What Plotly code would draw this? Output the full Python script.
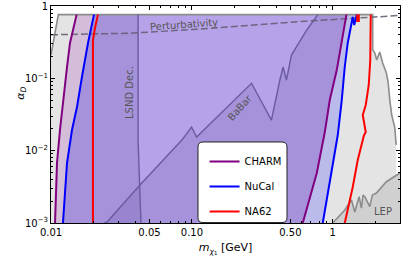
import plotly.graph_objects as go

# ---------------- data (m_chi1 in GeV, alpha_D) ----------------
Y_MIN = 1e-3
charm_left_m = [0.01068, 0.01103, 0.01158, 0.01216, 0.01299, 0.01364, 0.0152]
charm_left_a = [0.001, 0.00675, 0.0193, 0.0501, 0.1435, 0.308, 0.76]
charm_right_m = [0.612, 0.687, 0.770, 0.878, 0.952, 1.067, 1.148, 1.25]
charm_right_a = [0.001, 0.00229, 0.00491, 0.0181, 0.0501, 0.130, 0.289, 0.76]

nucal_left_m = [0.01216, 0.01299, 0.01409, 0.01529, 0.01658, 0.01831, 0.02019]
nucal_left_a = [0.001, 0.00675, 0.0193, 0.0401, 0.1043, 0.308, 0.76]
nucal_right_m = [0.849, 0.907, 0.984, 1.085, 1.158, 1.216, 1.277, 1.35, 1.386, 1.42, 1.465, 1.48]
nucal_right_a = [0.001, 0.00208, 0.0054, 0.01646, 0.0501, 0.1435, 0.308, 0.546, 0.705, 0.546, 0.705, 0.76]

na62_left_m = [0.01985, 0.01985, 0.02052, 0.02154]
na62_left_a = [0.001, 0.339, 0.497, 0.76]
na62_right_m = [1.216, 1.277, 1.386, 1.504, 1.606, 1.66, 1.714, 1.632, 1.714, 1.80, 1.845, 1.86]
na62_right_a = [0.001, 0.00151, 0.00315, 0.00743, 0.012, 0.016, 0.0181, 0.0311, 0.0428, 0.0809, 0.179, 0.76]
na62_top_m = [1.49, 1.49, 1.53, 1.53]
na62_top_a = [0.76, 0.62, 0.62, 0.76]

other_m = [0.01, 0.01, 0.01127, 1.92, 1.92, 1.99, 2.05, 2.154, 2.26, 2.40, 2.47, 2.54, 2.62, 2.75, 2.82, 2.82]
other_a = [0.001, 0.21, 0.76, 0.76, 0.246, 0.224, 0.179, 0.231, 0.163, 0.1186, 0.089, 0.0501, 0.0311, 0.0212, 0.012, 0.001]

lep_m = [1.0, 1.216, 1.357, 1.433, 1.537, 1.597, 1.64, 1.687, 1.83, 1.91, 2.04, 2.40, 3.0]
lep_a = [0.001, 0.00151, 0.00208, 0.00142, 0.00231, 0.00161, 0.00244, 0.00231, 0.00168, 0.00244, 0.0026, 0.00372, 0.00491]

lsnd_m = [0.0435, 0.0428, 0.0415, 0.0415]
lsnd_a = [0.001, 0.00335, 0.014, 0.76]

babar_m = [0.02375, 0.02497, 0.0428, 0.0849, 0.0995, 0.108, 0.265, 0.295, 0.367, 0.421, 0.444, 0.469, 0.509, 0.654, 0.783]
babar_a = [0.001, 0.00103, 0.00335, 0.014, 0.0212, 0.01545, 0.0854, 0.0588, 0.0265, 0.0948, 0.1435, 0.0948, 0.21, 0.466, 0.76]

pert_m = [0.01, 0.036, 0.114, 0.58, 3.0]
pert_a = [0.40, 0.42, 0.48, 0.61, 0.74]

x_tickvals = [0.01, 0.05, 0.1, 0.5, 1]
x_ticktext = ["0.01", "0.05", "0.10", "0.50", "1"]
y_tickvals = [0.001, 0.01, 0.1, 1]
y_ticktext = ["10<sup>−3</sup>", "10<sup>−2</sup>", "10<sup>−1</sup>", "1"]

FONT = "DejaVu Sans"
fig = go.Figure()


def poly(xs, ys, color, line=None):
    fig.add_trace(go.Scatter(x=xs, y=ys, mode="lines", fill="toself", fillcolor=color,
                             line=dict(width=0) if line is None else line,
                             showlegend=False, hoverinfo="skip"))


def curve(xs, ys, color, width, dash=None, name=None, group=None):
    fig.add_trace(go.Scatter(x=xs, y=ys, mode="lines", name=name,
                             line=dict(color=color, width=width, dash=dash),
                             showlegend=name is not None, legendgroup=group,
                             hoverinfo="skip"))


# background constraint regions
poly(other_m, other_a, "#e4e4e4")
poly(lep_m + [lep_m[-1]], lep_a + [Y_MIN], "#d0d0d0")
# CHARM band, NuCal band, overlap
poly(charm_left_m + charm_right_m[::-1], charm_left_a + charm_right_a[::-1], "#d3bdd8")
poly(nucal_left_m + nucal_right_m[::-1], nucal_left_a + nucal_right_a[::-1], "#babbea")
poly(nucal_left_m + charm_right_m[::-1], nucal_left_a + charm_right_a[::-1], "#b6a2e9")
# LSND and BaBar darker overlays
poly(nucal_left_m + lsnd_m[::-1], nucal_left_a + lsnd_a[::-1], "rgba(60,30,120,0.12)")
poly(babar_m + charm_right_m[::-1], babar_a + charm_right_a[::-1], "rgba(60,30,120,0.12)")

# outlines
curve(other_m[1:-1], other_a[1:-1], "#8c8c8c", 1.6)
curve(lep_m, lep_a, "#8c8c8c", 1.6)
curve(lsnd_m, lsnd_a, "#6a5aa0", 1.4)
curve(babar_m, babar_a, "#6a5aa0", 1.4)
curve(pert_m, pert_a, "rgba(100,95,115,0.9)", 1.5, dash="7px,3px")

# experiment contours
curve(charm_left_m, charm_left_a, "#800080", 2, name="CHARM", group="charm")
curve(charm_right_m, charm_right_a, "#800080", 2, group="charm")
curve(nucal_left_m, nucal_left_a, "#0000ff", 2, name="NuCal", group="nucal")
curve(nucal_right_m, nucal_right_a, "#0000ff", 2, group="nucal")
curve(na62_left_m, na62_left_a, "#ff0000", 2, name="NA62", group="na62")
curve(na62_right_m, na62_right_a, "#ff0000", 2, group="na62")
curve(na62_top_m, na62_top_a, "#ff0000", 2, group="na62")

ann = dict(showarrow=False, font=dict(family=FONT, size=10, color="#555555"), xref="x", yref="y")
fig.add_annotation(text="Perturbativity", x=-1.056, y=-0.249, textangle=-4, **ann)
fig.add_annotation(text="LSND Dec.", x=-1.447, y=-1.19, textangle=-90, **ann)
fig.add_annotation(text="BaBar", x=-0.66, y=-1.397, textangle=-48, **ann)
fig.add_annotation(text="LEP", x=0.358, y=-2.835, **ann)
# y-axis label (placed like the reference, above the axis centre)
fig.add_annotation(text="<i>α</i><sub><i>D</i></sub>", xref="paper", yref="paper",
                   x=-0.112, y=0.60, textangle=-90, showarrow=False,
                   font=dict(family=FONT, size=11, color="black"))

# rounded legend frame
x0, x1, y0, y1, rx, ry = 0.4212, 0.6762, 0.002, 0.3733, 0.0143, 0.023
path = (f"M {x0+rx},{y1} L {x1-rx},{y1} Q {x1},{y1} {x1},{y1-ry} L {x1},{y0+ry} "
        f"Q {x1},{y0} {x1-rx},{y0} L {x0+rx},{y0} Q {x0},{y0} {x0},{y0+ry} "
        f"L {x0},{y1-ry} Q {x0},{y1} {x0+rx},{y1} Z")
fig.add_shape(type="path", path=path, xref="paper", yref="paper",
              fillcolor="white", line=dict(color="#222222", width=1), layer="above")

minor_x = [k * 10 ** e for e in (-2, -1, 0) for k in range(2, 10) if k * 10 ** e <= 3]
minor_y = [k * 10 ** e for e in (-3, -2, -1) for k in range(2, 10)]
axis_common = dict(showline=True, linecolor="black", linewidth=1, mirror="ticks",
                   ticks="inside", ticklen=4, tickwidth=1, tickcolor="black",
                   showgrid=False, zeroline=False, automargin=False,
                   tickfont=dict(family=FONT, size=10, color="black"))
fig.update_xaxes(type="log", range=[-2, 0.4771], tickmode="array",
                 tickvals=x_tickvals, ticktext=x_ticktext,
                 minor=dict(ticks="inside", ticklen=2, tickcolor="black", tickvals=minor_x, showgrid=False),
                 title=dict(text="<i>m</i><sub><i>χ</i><sub>1</sub></sub> [GeV]",
                            font=dict(family=FONT, size=11, color="black"), standoff=6),
                 **axis_common)
fig.update_yaxes(type="log", range=[-3, 0], tickmode="array",
                 tickvals=y_tickvals, ticktext=y_ticktext,
                 minor=dict(ticks="inside", ticklen=2, tickcolor="black", tickvals=minor_y, showgrid=False),
                 **axis_common)
fig.update_layout(width=407, height=269, margin=dict(l=51, r=7, t=6, b=46),
                  plot_bgcolor="white", paper_bgcolor="white",
                  font=dict(family=FONT, size=10, color="black"),
                  legend=dict(x=0.44, y=0.35, xanchor="left", yanchor="top",
                              bgcolor="rgba(0,0,0,0)", borderwidth=0, itemwidth=30,
                              tracegroupgap=6, font=dict(family=FONT, size=10, color="black")))
fig.write_html("out.html", config={"displayModeBar": False},
               post_script="document.body.style.margin='0';")
